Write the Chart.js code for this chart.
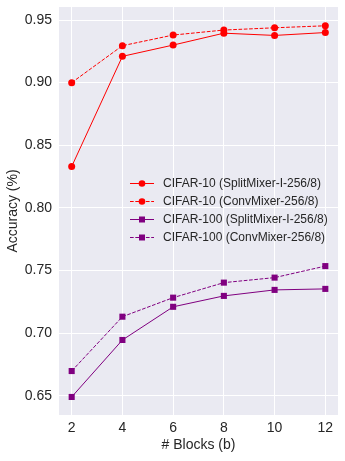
<!DOCTYPE html>
<html>
<head>
<meta charset="utf-8">
<script src="https://cdn.jsdelivr.net/npm/chart.js@4/dist/chart.umd.min.js"></script>
<style>
  html, body { margin: 0; padding: 0; background: #fff; }
  #wrap { width: 345px; height: 461px; }
</style>
</head>
<body>
<div id="wrap"><canvas id="chart" width="345" height="461"></canvas></div>
<script>
// --- Data ---
const blocks = [2, 4, 6, 8, 10, 12];
const cifar10Split = [0.833, 0.921, 0.930, 0.9395, 0.9377, 0.940];
const cifar10Conv = [0.900, 0.9295, 0.938, 0.942, 0.9438, 0.9454];
const cifar100Split = [0.649, 0.6945, 0.721, 0.7297, 0.7345, 0.7353];
const cifar100Conv = [0.6697, 0.7131, 0.7283, 0.7403, 0.7443, 0.7535];
const labels = [
  'CIFAR-10 (SplitMixer-I-256/8)',
  'CIFAR-10 (ConvMixer-256/8)',
  'CIFAR-100 (SplitMixer-I-256/8)',
  'CIFAR-100 (ConvMixer-256/8)'
];
const xTicks = [2, 4, 6, 8, 10, 12];
const yTicks = [0.65, 0.70, 0.75, 0.80, 0.85, 0.90, 0.95];

const FONT = "'Liberation Sans', Arial, sans-serif";
const TEXT = '#262626';
const RED = '#ff0000';
const PURPLE = '#800080';
const DASH = [3.7, 1.6];

const pts = vals => vals.map((v, i) => ({ x: blocks[i], y: v }));

function series(label, vals, color, dashed, style, radius) {
  return {
    label, data: pts(vals),
    borderColor: color, backgroundColor: color,
    borderWidth: 1, borderDash: dashed ? DASH : [],
    pointStyle: style, pointRadius: radius, pointHoverRadius: radius,
    pointBorderWidth: 0, fill: false, tension: 0, clip: false
  };
}

// --- Plugins ---
const plotBg = {
  id: 'plotBg',
  beforeDraw(chart) {
    const { ctx, chartArea: a } = chart;
    ctx.save();
    ctx.fillStyle = '#eaeaf2';
    ctx.fillRect(a.left, a.top, a.right - a.left, a.bottom - a.top);
    ctx.restore();
  }
};

const legendBox = {
  id: 'legendBox',
  afterDraw(chart) {
    const { ctx } = chart;
    const x0 = 130, x1 = 154, tx = 163;
    const rows = [183.5, 201.5, 219.5, 237.5];
    ctx.save();
    ctx.font = '12px ' + FONT;
    ctx.textBaseline = 'middle';
    chart.data.datasets.forEach((ds, i) => {
      const y = rows[i];
      ctx.strokeStyle = ds.borderColor;
      ctx.lineWidth = 1;
      ctx.setLineDash(ds.borderDash);
      ctx.beginPath();
      ctx.moveTo(x0, y);
      ctx.lineTo(x1, y);
      ctx.stroke();
      ctx.setLineDash([]);
      ctx.fillStyle = ds.borderColor;
      const mx = (x0 + x1) / 2;
      if (ds.pointStyle === 'rect') {
        ctx.fillRect(mx - 3, y - 3, 6, 6);
      } else {
        ctx.beginPath();
        ctx.arc(mx, y, 3.3, 0, Math.PI * 2);
        ctx.fill();
      }
      ctx.fillStyle = TEXT;
      ctx.fillText(ds.label, tx, y);
    });
    ctx.restore();
  }
};

// --- Chart ---
const chart = new Chart(document.getElementById('chart').getContext('2d'), {
  type: 'line',
  data: {
    datasets: [
      series(labels[0], cifar10Split, RED, false, 'circle', 3.5),
      series(labels[1], cifar10Conv, RED, true, 'circle', 3.5),
      series(labels[2], cifar100Split, PURPLE, false, 'rect', 4.3),
      series(labels[3], cifar100Conv, PURPLE, true, 'rect', 4.3)
    ]
  },
  options: {
    responsive: false,
    animation: false,
    layout: { autoPadding: false, padding: { top: 7, right: 7, left: 0, bottom: 0 } },
    plugins: { legend: { display: false }, tooltip: { enabled: false } },
    scales: {
      x: {
        type: 'linear', min: 1.5, max: 12.5,
        afterBuildTicks: s => { s.ticks = xTicks.map(v => ({ value: v })); },
        afterFit: s => { s.height = 46; s.paddingLeft = 0; s.paddingRight = 0; },
        grid: { color: '#ffffff', lineWidth: 1, drawTicks: false },
        border: { display: false },
        ticks: { color: TEXT, font: { family: FONT, size: 14 }, padding: 5, maxRotation: 0 },
        title: { display: true, text: '# Blocks (b)', color: TEXT, font: { family: FONT, size: 14 }, padding: { top: 0, bottom: 7 } }
      },
      y: {
        min: 0.6346, max: 0.9604,
        afterBuildTicks: s => { s.ticks = yTicks.map(v => ({ value: v })); },
        afterFit: s => { s.width = 59; s.paddingTop = 0; s.paddingBottom = 0; },
        grid: { color: '#ffffff', lineWidth: 1, drawTicks: false },
        border: { display: false },
        ticks: { color: TEXT, font: { family: FONT, size: 14 }, padding: 7, callback: v => v.toFixed(2) },
        title: { display: true, text: 'Accuracy (%)', color: TEXT, font: { family: FONT, size: 14 }, padding: { top: 4.5, bottom: 0 } }
      }
    }
  },
  plugins: [plotBg, legendBox]
});
</script>
</body>
</html>
